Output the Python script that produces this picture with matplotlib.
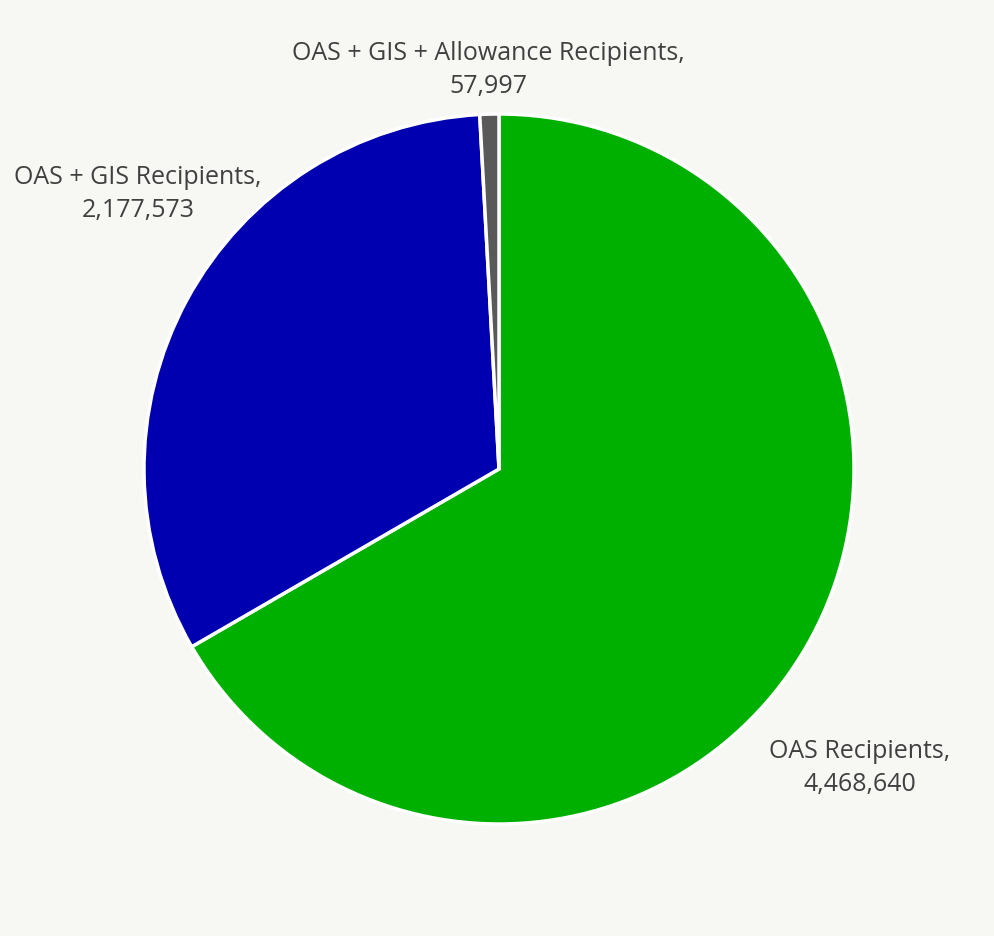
import matplotlib
matplotlib.use("Agg")
import matplotlib.pyplot as plt

# -------- Data --------
categories = ["OAS Recipients", "OAS + GIS Recipients", "OAS + GIS + Allowance Recipients"]
values = [4468640, 2177573, 57997]
colors = ["#00B000", "#0000B0", "#595959"]

# label anchor positions (pixels, origin top-left)
label_pos = [(860, 768), (138, 194), (488, 70)]

BG = "#F7F8F4"
W, H = 995, 937

fig = plt.figure(figsize=(W / 100, H / 100), dpi=100, facecolor=BG)
ax = fig.add_axes([0, 0, 1, 1])
ax.set_facecolor(BG)

ax.pie(values, colors=colors, startangle=90, counterclock=False,
       center=(499, H - 470), radius=355,
       wedgeprops=dict(edgecolor="white", linewidth=2.5))

for cat, val, (x, y) in zip(categories, values, label_pos):
    ax.text(x, H - y, "{},\n{:,}".format(cat, val), ha="center", va="center",
            fontsize=18, color="#404040", family="Open Sans", linespacing=1.4)

ax.set_xlim(0, W)
ax.set_ylim(0, H)
ax.set_aspect("equal")
ax.axis("off")

fig.savefig("out.png", dpi=100, facecolor=BG)
